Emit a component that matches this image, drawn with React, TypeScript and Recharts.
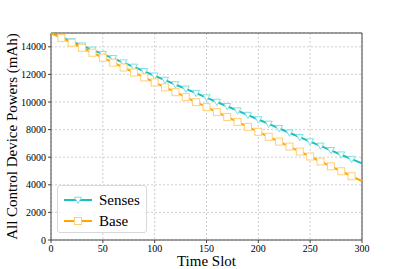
import React from "react";
import {
  LineChart,
  Line,
  XAxis,
  YAxis,
  CartesianGrid,
  ReferenceArea,
} from "recharts";

const timeSlots = [
  0, 10, 20, 30, 40, 50, 60, 70, 80, 90, 100, 110, 120, 130, 140, 150, 160,
  170, 180, 190, 200, 210, 220, 230, 240, 250, 260, 270, 280, 290, 300,
];
const senses = [
  15000, 14700, 14390, 14080, 13780, 13470, 13160, 12850, 12540, 12220, 11900,
  11590, 11270, 10950, 10640, 10320, 10000, 9690, 9370, 9050, 8730, 8410, 8090,
  7770, 7450, 7130, 6820, 6500, 6180, 5860, 5550,
];
const base = [
  15000, 14640, 14290, 13930, 13570, 13210, 12850, 12500, 12140, 11780, 11420,
  11060, 10710, 10350, 9990, 9630, 9270, 8920, 8560, 8200, 7840, 7480, 7130,
  6770, 6410, 6050, 5690, 5340, 4980, 4620, 4260,
];
const xTicks = [0, 50, 100, 150, 200, 250, 300];
const yTicks = [0, 2000, 4000, 6000, 8000, 10000, 12000, 14000];

const TEAL = "#17bfbf";
const TEAL_LIGHT = "#7fdede";
const ORANGE = "#ffa500";
const ORANGE_LIGHT = "#ffcf75";
const FONT = "'Liberation Serif', 'DejaVu Serif', serif";

const data = timeSlots.map((t, i) => ({ t, senses: senses[i], base: base[i] }));
const lastIdx = timeSlots.length - 1;

const TriDot = (p: any) => {
  const { cx, cy, index } = p;
  if (cx == null || cy == null) return null;
  if (index === 0 || index === lastIdx) return null;
  const s = 3.5;
  return (
    <polygon
      points={`${cx - s},${cy - s * 0.8} ${cx + s},${cy - s * 0.8} ${cx},${cy + s}`}
      fill="#fff"
      stroke={TEAL_LIGHT}
      strokeWidth={1}
    />
  );
};

const SqDot = (p: any) => {
  const { cx, cy, index } = p;
  if (cx == null || cy == null) return null;
  if (index === 0 || index === lastIdx) return null;
  const s = 3.5;
  return (
    <rect
      x={cx - s}
      y={cy - s}
      width={s * 2}
      height={s * 2}
      fill="#fff"
      stroke={ORANGE_LIGHT}
      strokeWidth={1}
    />
  );
};

const LegendBox = () => (
  <div
    style={{
      position: "absolute",
      left: 57,
      top: 185,
      width: 88,
      height: 46,
      border: "1px solid #d9d9d9",
      borderRadius: 3,
      background: "rgba(255,255,255,0.85)",
    }}
  >
    <svg width={88} height={46} style={{ position: "absolute", left: 0, top: 0 }}>
      <line x1={6} y1={14} x2={34} y2={14} stroke={TEAL} strokeWidth={2} />
      <TriDot cx={20} cy={14} index={1} />
      <line x1={6} y1={35} x2={34} y2={35} stroke={ORANGE} strokeWidth={2} />
      <SqDot cx={20} cy={35} index={1} />
      <text x={41} y={19} fontFamily={FONT} fontSize={15}>
        Senses
      </text>
      <text x={41} y={40} fontFamily={FONT} fontSize={15}>
        Base
      </text>
    </svg>
  </div>
);

export default function App() {
  return (
    <div style={{ position: "fixed", left: 0, top: 0, width: 403, height: 269, background: "#fff" }}>
      <LineChart
        width={403}
        height={269}
        data={data}
        margin={{ top: 33, right: 41, left: 0, bottom: 0 }}
      >
        <CartesianGrid stroke="#d0d0d0" strokeDasharray="2 2" />
        <XAxis
          dataKey="t"
          type="number"
          domain={[0, 300]}
          ticks={xTicks}
          height={29}
          tickSize={3}
          axisLine={false}
          tick={{ fontFamily: FONT, fontSize: 10, fill: "#000" }}
          tickLine={{ stroke: "#444" }}
          label={{
            value: "Time Slot",
            position: "insideBottom",
            offset: 3,
            style: { fontFamily: FONT, fontSize: 15, fill: "#000" },
          }}
        />
        <YAxis
          type="number"
          domain={[0, 15000]}
          ticks={yTicks}
          width={51}
          tickSize={3}
          axisLine={false}
          tick={{ fontFamily: FONT, fontSize: 10, fill: "#000" }}
          tickLine={{ stroke: "#444" }}
          label={{
            value: "All Control Device Powers (mAh)",
            angle: -90,
            position: "insideLeft",
            offset: 12,
            style: { fontFamily: FONT, fontSize: 15, fill: "#000", textAnchor: "middle" },
          }}
        />
        <ReferenceArea
          x1={0}
          x2={300}
          y1={0}
          y2={15000}
          fill="none"
          stroke="#444"
          strokeWidth={1}
          ifOverflow="visible"
        />
        <Line
          dataKey="senses"
          stroke={TEAL}
          strokeWidth={2}
          dot={<TriDot />}
          isAnimationActive={false}
        />
        <Line
          dataKey="base"
          stroke={ORANGE}
          strokeWidth={2}
          dot={<SqDot />}
          isAnimationActive={false}
        />
      </LineChart>
      <LegendBox />
    </div>
  );
}
